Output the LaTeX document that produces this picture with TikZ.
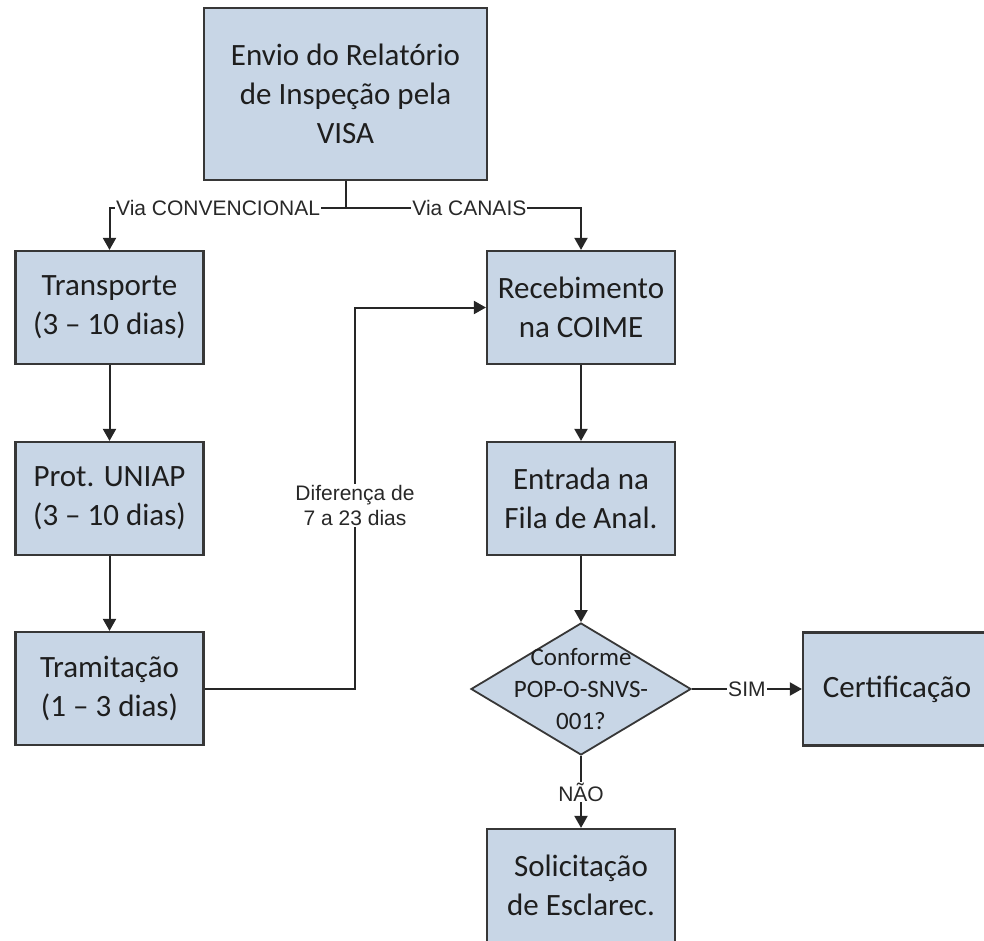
\documentclass[tikz,border=0pt]{standalone}
\usepackage{fontspec}
\setmainfont{Carlito}
\newfontfamily\arialf{Liberation Sans}
\usetikzlibrary{arrows.meta,shapes.geometric}
\definecolor{boxfill}{RGB}{200,214,230}
\definecolor{boxline}{RGB}{55,55,55}
\definecolor{txt}{RGB}{30,30,30}
\definecolor{lbl}{RGB}{40,40,40}
\tikzset{
  box/.style={draw=boxline, line width=2.2pt, fill=boxfill, minimum width=188pt,
    minimum height=113pt, inner sep=0pt, align=center, text=txt,
    font=\fontsize{31}{39}\selectfont},
  conn/.style={draw=black!85, line width=2pt, -{Triangle[length=12pt,width=13pt]}},
  plain/.style={draw=black!85, line width=2pt},
  lab/.style={fill=white, inner sep=1pt, text=lbl, align=center,
    font=\arialf\fontsize{21}{25.5}\selectfont},
}
\begin{document}
\begin{tikzpicture}[x=1pt,y=-1pt]
\useasboundingbox (0,0) rectangle (984,941);
\clip (0,0) rectangle (984,941);
\node[box, minimum width=283pt, minimum height=172pt] (top) at (345.5,94) {Envio do Relatório\\de Inspeção pela\\VISA};
\node[box] (trans) at (109.5,307.5) {Transporte\\(3 -- 10 dias)};
\node[box] (prot) at (109.5,498.5) {Prot. UNIAP\\(3 -- 10 dias)};
\node[box] (tram) at (109.5,688.5) {Tramitação\\(1 -- 3 dias)};
\node[box] (rec) at (581,307.5) {Recebimento\\na COIME};
\node[box] (ent) at (581,498.5) {Entrada na\\Fila de Anal.};
\node[draw=boxline, line width=1.8pt, fill=boxfill, shape=diamond, aspect=1.667,
  minimum width=220pt, minimum height=132pt, inner sep=0pt,
  label={[text=txt, align=center, font=\fontsize{25}{32}\selectfont]center:Conforme\\POP-O-SNVS-\\001?}] (dec) at (581,689) {};
\node[box] (cert) at (897,689) {Certificação};
\node[box] (sol) at (581,885.5) {Solicitação\\de Esclarec.};

\path (top.south) ++(0,27) coordinate (j);
\coordinate (k) at (355,688.5);
\draw[plain] (top.south) -- (j);
\draw[conn] (j) -| node[lab, pos=0.27] {Via CONVENCIONAL} (trans.north);
\draw[conn] (j) -| node[lab, pos=0.263] {Via CANAIS} (rec.north);
\draw[conn] (trans) -- (prot);
\draw[conn] (prot) -- (tram);
\draw[conn] (tram.east) -- (k) |- node[lab, pos=0.24] {Diferença de\\7 a 23 dias} (rec.west);
\draw[conn] (rec) -- (ent);
\draw[conn] (ent) -- (dec.north);
\draw[conn] (dec.east) -- node[lab] {SIM} (cert.west);
\draw[conn] (dec.south) -- node[lab] {NÃO} (sol.north);
\end{tikzpicture}
\end{document}
